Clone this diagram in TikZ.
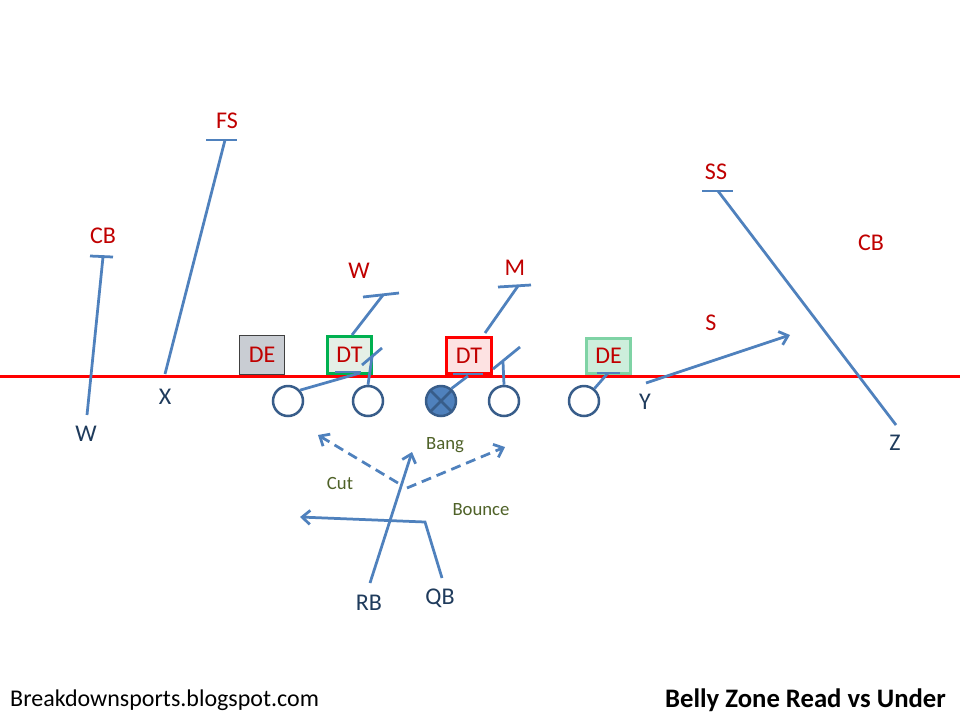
\documentclass[tikz,border=0pt]{standalone}
\usepackage{fontspec}
\setmainfont{Carlito}
\usetikzlibrary{arrows.meta}
\definecolor{dred}{HTML}{C00000}
\definecolor{lred}{HTML}{FF0000}
\definecolor{rblue}{HTML}{4F81BD}
\definecolor{cblue}{HTML}{385D8A}
\definecolor{navy}{HTML}{1F3B5C}
\definecolor{olive}{HTML}{4F6228}
\definecolor{gfill}{HTML}{C9CDD3}
\definecolor{gborder}{HTML}{404040}
\definecolor{dgreen}{HTML}{00B050}
\definecolor{dgfill}{HTML}{E4EFE6}
\definecolor{pfill}{HTML}{FDE2E2}
\definecolor{lgreen}{HTML}{7FD3A5}
\definecolor{lgfill}{HTML}{CDEEDC}
\tikzset{
  deflab/.style={text=dred, font=\fontsize{24}{28}\selectfont, inner sep=0pt},
  offlab/.style={text=navy, font=\fontsize{24}{28}\selectfont, inner sep=0pt},
  optlab/.style={text=olive, font=\fontsize{18.7}{22}\selectfont, inner sep=0pt},
  route/.style={draw=rblue, line width=2.75pt},
  arr/.style={route, -{Straight Barb[length=8pt,width=14pt]}},
  dashroute/.style={arr, dash pattern=on 10pt off 6pt},
  oman/.style={circle, draw=cblue, line width=2.5pt, minimum size=30pt, inner sep=0pt, fill=white},
  dbox/.style={rectangle, inner sep=0pt, text=dred, font=\fontsize{24}{28}\selectfont},
}
\begin{document}
\begin{tikzpicture}[x=1pt,y=-1pt]
\useasboundingbox[fill=white] (0,0) rectangle (960,720);

% line of scrimmage
\coordinate (losL) at (0,376);
\coordinate (losR) at (960,376);
\draw[lred, line width=3pt] (losL) -- (losR);

% defensive line boxes
\node[dbox, draw=gborder, fill=gfill, line width=1pt, minimum width=45pt, minimum height=39pt] (deL) at (262,355) {DE};
\node[dbox, draw=dgreen, fill=dgfill, line width=3pt, minimum width=44pt, minimum height=37pt] (dtL) at (349.5,355) {DT};
\node[dbox, draw=lred, fill=pfill, line width=3pt, minimum width=45pt, minimum height=36pt] (dtR) at (469,355.5) {DT};
\node[dbox, draw=lgreen, fill=lgfill, line width=3pt, minimum width=44pt, minimum height=35pt] (deR) at (608.5,356) {DE};

% defensive labels
\node[deflab] (fs) at (227,121) {FS};
\node[deflab] (cbL) at (103,236) {CB};
\node[deflab] (ss) at (716,172) {SS};
\node[deflab] (cbR) at (871,243) {CB};
\node[deflab] (wlb) at (359,271) {W};
\node[deflab] (mlb) at (515,268) {M};
\node[deflab] (slb) at (711,323) {S};

% offensive linemen
\node[oman] (o1) at (288,401) {};
\node[oman] (o2) at (368,401) {};
\node[oman, fill=rblue] (o3) at (441,401) {};
\draw[cblue, line width=2.5pt] (o3.north west) -- (o3.south east) (o3.north east) -- (o3.south west);
\node[oman] (o4) at (504,401) {};
\node[oman] (o5) at (584,401) {};

% offensive labels
\node[offlab] (wr) at (86,434) {W};
\node[offlab] (xr) at (165,397) {X};
\node[offlab] (yr) at (645,402) {Y};
\node[offlab] (zr) at (895,443) {Z};
\node[offlab] (rb) at (369,603) {RB};
\node[offlab] (qb) at (440,598) {QB};

% option labels
\node[optlab] (cut) at (340,483) {Cut};
\node[optlab] (bang) at (445,445) {Bang};
\node[optlab] (bounce) at (481,510) {Bounce};

% footer
\node[anchor=west, inner sep=0pt, font=\fontsize{24}{28}\selectfont] (site) at (10,700) {Breakdownsports.blogspot.com};
\node[anchor=east, inner sep=0pt, font=\fontsize{26.7}{30}\selectfont\bfseries] (title) at (946,700) {Belly Zone Read vs Under};

% W receiver route
\coordinate (wS) at (87,415); \coordinate (wE) at (103,257);
\coordinate (wB1) at (90,256); \coordinate (wB2) at (113,257);
\draw[route] (wS) -- (wE); \draw[route] (wB1) -- (wB2);
% X receiver route
\coordinate (xS) at (165,374); \coordinate (xE) at (225,140);
\coordinate (xB1) at (206,140); \coordinate (xB2) at (237,140);
\draw[route] (xS) -- (xE); \draw[route] (xB1) -- (xB2);
% Z receiver route
\coordinate (zS) at (896,425); \coordinate (zE) at (718,191);
\coordinate (zB1) at (702,191); \coordinate (zB2) at (733,191);
\draw[route] (zS) -- (zE); \draw[route] (zB1) -- (zB2);
% Y route
\coordinate (yS) at (646,383); \coordinate (yE) at (790,335);
\draw[arr] (yS) -- (yE);

% blocks
\coordinate (b1E) at (360,373); \coordinate (b1a) at (335,372); \coordinate (b1b) at (361,372);
\draw[route] (o1.42) -- (b1E); \draw[route] (b1a) -- (b1b);
\coordinate (b2E) at (372,357); \coordinate (b2a) at (362,365); \coordinate (b2b) at (382,348);
\draw[route] (o2.north) -- (b2E); \draw[route] (b2a) -- (b2b);
\coordinate (b3E) at (468,376); \coordinate (b3a) at (453,374); \coordinate (b3b) at (483,374);
\draw[route] (o3.50) -- (b3E); \draw[route] (b3a) -- (b3b);
\coordinate (b4E) at (503,362); \coordinate (b4a) at (493,369); \coordinate (b4b) at (520,347);
\draw[route] (o4.north) -- (b4E); \draw[route] (b4a) -- (b4b);
\coordinate (b5E) at (608,373); \coordinate (b5a) at (597,373); \coordinate (b5b) at (620,373);
\draw[route] (o5.50) -- (b5E); \draw[route] (b5a) -- (b5b);

% linebacker scrapes from DTs
\coordinate (dw1) at (352,335); \coordinate (dw2) at (383,295);
\coordinate (dwa) at (363,297); \coordinate (dwb) at (399,293);
\draw[route] (dw1) -- (dw2); \draw[route] (dwa) -- (dwb);
\coordinate (dm1) at (485,333); \coordinate (dm2) at (518,286);
\coordinate (dma) at (498,287); \coordinate (dmb) at (531,285);
\draw[route] (dm1) -- (dm2); \draw[route] (dma) -- (dmb);

% backfield
\coordinate (rbS) at (370,583); \coordinate (rbE) at (412,452);
\draw[arr] (rbS) -- (rbE);
\coordinate (qbS) at (442,578); \coordinate (qbM) at (425,522); \coordinate (qbE) at (300,517);
\draw[arr] (qbS) -- (qbM) -- (qbE);
\coordinate (cutS) at (398,483); \coordinate (cutE) at (318,435);
\draw[dashroute] (cutS) -- (cutE);
\coordinate (bncS) at (407,488); \coordinate (bncE) at (505,447);
\draw[dashroute] (bncS) -- (bncE);
\end{tikzpicture}
\end{document}
